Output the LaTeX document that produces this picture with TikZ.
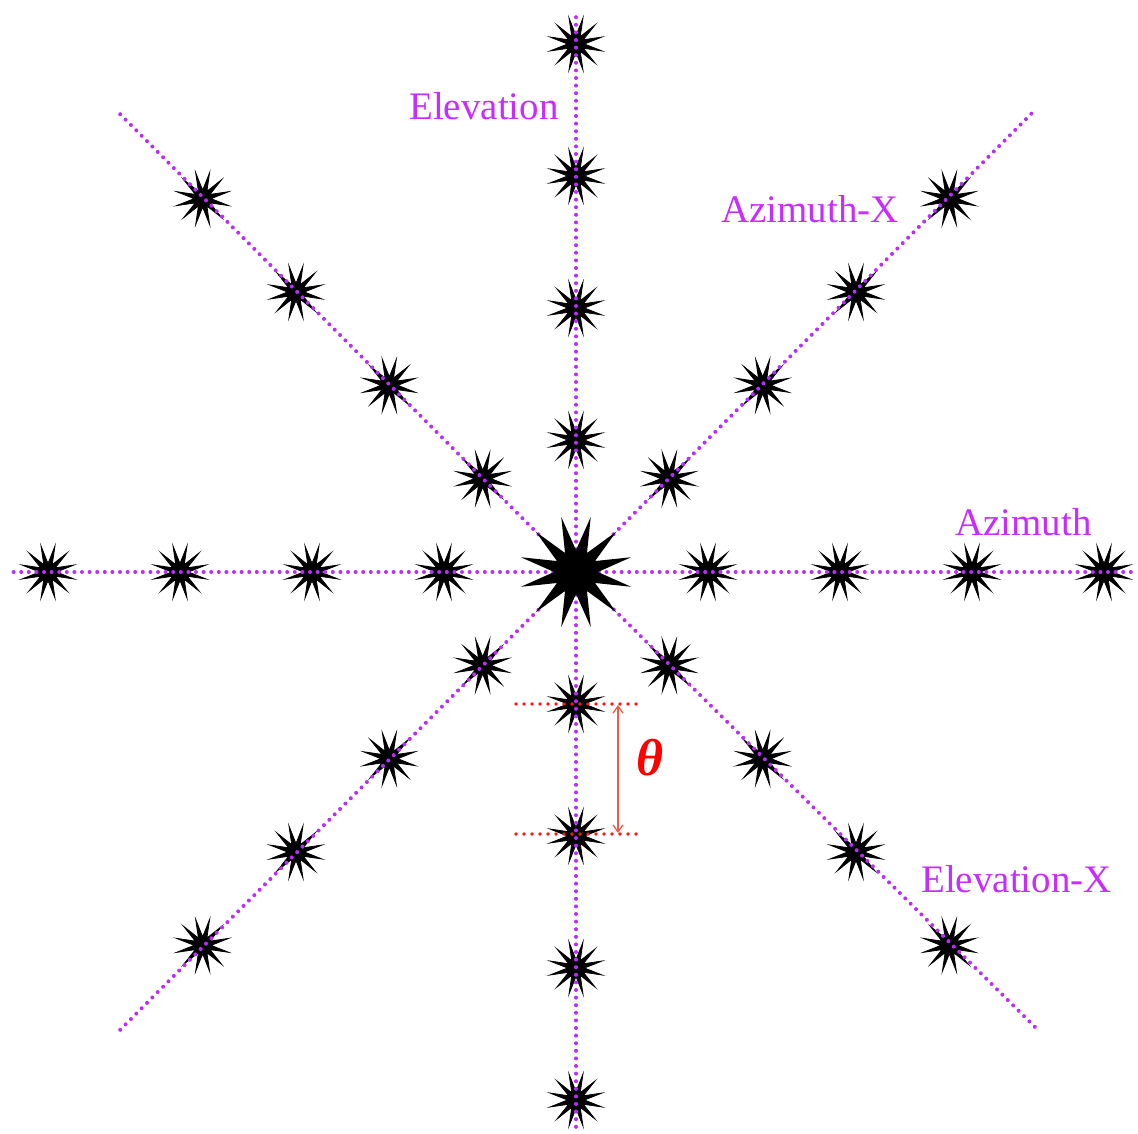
\documentclass[tikz,border=0pt]{standalone}
\usepackage{fontspec}
\setmainfont{Liberation Serif}
\usetikzlibrary{shapes.geometric,arrows.meta,calc}
\definecolor{dotpurple}{RGB}{185,45,255}
\definecolor{labpurple}{RGB}{200,45,255}
\definecolor{dotred}{RGB}{250,20,20}
\definecolor{arrred}{RGB}{240,90,70}
\tikzset{
  smallstar/.style={star, star points=12, star point ratio=3.2, minimum size=54pt, inner sep=0pt, fill=black, draw=black, line width=0.8pt, shape border rotate=15},
  bigstar/.style={star, star points=12, star point ratio=2.6, minimum size=114pt, inner sep=0pt, fill=black, draw=none, shape border rotate=15},
  pdots/.style={draw=dotpurple, line width=4pt, line cap=round, dash pattern=on 0pt off 7.6pt},
  rdots/.style={draw=dotred, line width=3.8pt, line cap=round, dash pattern=on 0pt off 8pt},
  lab/.style={text=labpurple, font=\fontsize{39}{42}\selectfont, anchor=base west, inner sep=0pt},
}
\begin{document}
\begin{tikzpicture}[x=1pt,y=-1pt]
\useasboundingbox (0,0) rectangle (1138,1133);
\coordinate (C) at (576,572);
% small stars
\foreach \a in {0,45,...,315}{
  \foreach \k in {1,2,3,4}{
    \node[smallstar] (s-\a-\k) at ($(C)+({\a}:{132*\k})$) {};
  }
}
% line ends
\coordinate (eE) at (1135,572);
\coordinate (eW) at (12,572);
\coordinate (eN) at (576,10);
\coordinate (eS) at (576,1130);
\coordinate (eNE) at (1033,112);
\coordinate (eNW) at (118,112);
\coordinate (eSW) at (118,1032);
\coordinate (eSE) at (1035,1027);
\foreach \e in {eE,eW,eN,eS,eNE,eNW,eSW,eSE}{
  \draw[pdots] (C) -- (\e);
}
% big star
\node[bigstar] (center) at (C) {};
% theta marker
\coordinate (rA1) at (516,704);
\coordinate (rA2) at (637,704);
\coordinate (rB1) at (516,834);
\coordinate (rB2) at (637,834);
\draw[rdots] (rA1) -- (rA2);
\draw[rdots] (rB1) -- (rB2);
\coordinate (tA) at (618,705);
\coordinate (tB) at (618,833);
\draw[arrred, line width=1.3pt, {Straight Barb[length=7pt,width=10pt]}-{Straight Barb[length=7pt,width=10pt]}] (tA) -- (tB);
\node[text=red, font=\fontsize{52}{56}\selectfont\bfseries\itshape, inner sep=0pt] (theta) at (650,758) {θ};
% labels
\node[lab] (lElev) at (409,119) {Elevation};
\node[lab] (lAzX) at (721,222) {Azimuth-X};
\node[lab] (lAz) at (955,535) {Azimuth};
\node[lab] (lElX) at (921,892) {Elevation-X};
\end{tikzpicture}
\end{document}
